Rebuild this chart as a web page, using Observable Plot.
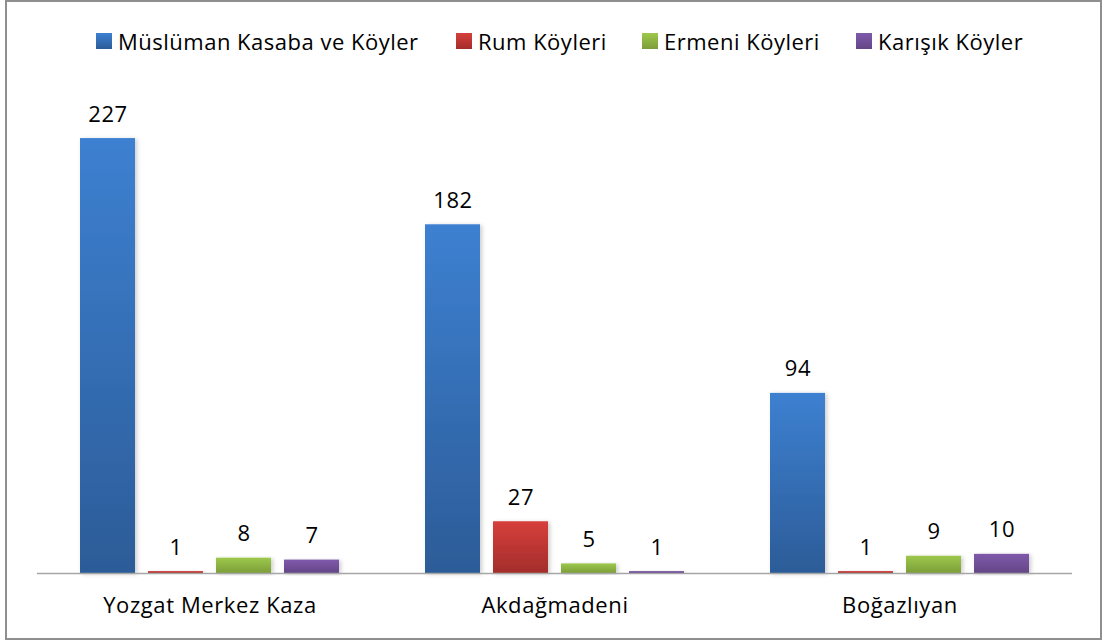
<!DOCTYPE html>
<html>
<head>
<meta charset="utf-8">
<script src="https://cdn.jsdelivr.net/npm/d3@7"></script>
<script src="https://cdn.jsdelivr.net/npm/@observablehq/plot@0.6"></script>
<style>
  body { margin: 0; background: #fff; font-family: "Open Sans", sans-serif; }
  #wrap { position: relative; width: 1103px; height: 643px; overflow: hidden; }
  #border { position: absolute; left: 5px; top: 0; width: 1097px; height: 640px; box-sizing: border-box; border: 2px solid #8f8f8f; pointer-events: none; }
  #legend { position: relative; height: 70px; }
  .item { position: absolute; top: 26px; display: flex; align-items: center; font-size: 22px; letter-spacing: 0.5px; color: #000; white-space: nowrap; }
  .sw { width: 16px; height: 16px; margin-right: 6px; }
  #chart { position: absolute; left: 0; top: 70px; }
  #chart text { letter-spacing: 0.6px; }
</style>
</head>
<body>
<div id="wrap">
  <div id="legend"></div>
  <div id="chart"></div>
  <div id="border"></div>
</div>
<script>
const categories = ["Yozgat Merkez Kaza", "Akdağmadeni", "Boğazlıyan"];
const series = ["Müslüman Kasaba ve Köyler", "Rum Köyleri", "Ermeni Köyleri", "Karışık Köyler"];
const muslumanValues = [227, 182, 94];
const rumValues = [1, 27, 1];
const ermeniValues = [8, 5, 9];
const karisikValues = [7, 1, 10];
const seriesColors = [["#3d80d1", "#2c5c98"], ["#d63f3b", "#a32d2b"], ["#9dc84c", "#7c9e39"], ["#8059ab", "#644687"]];
const legendX = [96, 456, 642, 856];

const valuesBySeries = [muslumanValues, rumValues, ermeniValues, karisikValues];
const data = [];
categories.forEach((c, ci) => series.forEach((s, si) => data.push({category: c, series: s, si, value: valuesBySeries[si][ci]})));

// legend
const legend = document.getElementById("legend");
series.forEach((s, i) => {
  const it = document.createElement("div");
  it.className = "item";
  it.style.left = legendX[i] + "px";
  const sw = document.createElement("div");
  sw.className = "sw";
  sw.style.background = `linear-gradient(${seriesColors[i][0]}, ${seriesColors[i][1]})`;
  const tx = document.createElement("span");
  tx.textContent = s;
  it.appendChild(sw); it.appendChild(tx);
  legend.appendChild(it);
});

// gradient defs in a hidden svg
const ns = "http://www.w3.org/2000/svg";
const defsSvg = document.createElementNS(ns, "svg");
defsSvg.setAttribute("width", 0); defsSvg.setAttribute("height", 0);
defsSvg.style.position = "absolute";
const defs = document.createElementNS(ns, "defs");
seriesColors.forEach((cols, i) => {
  const g = document.createElementNS(ns, "linearGradient");
  g.setAttribute("id", "grad" + i);
  g.setAttribute("x1", "0"); g.setAttribute("y1", "0"); g.setAttribute("x2", "0"); g.setAttribute("y2", "1");
  [[0, cols[0]], [1, cols[1]]].forEach(([o, c]) => {
    const st = document.createElementNS(ns, "stop");
    st.setAttribute("offset", o); st.setAttribute("stop-color", c);
    g.appendChild(st);
  });
  defs.appendChild(g);
});
const f = document.createElementNS(ns, "filter");
f.setAttribute("id", "shadow"); f.setAttribute("x", "-20%"); f.setAttribute("y", "-5%"); f.setAttribute("width", "150%"); f.setAttribute("height", "120%");
const ds = document.createElementNS(ns, "feDropShadow");
ds.setAttribute("dx", "2"); ds.setAttribute("dy", "1"); ds.setAttribute("stdDeviation", "2"); ds.setAttribute("flood-color", "#000"); ds.setAttribute("flood-opacity", "0.2");
f.appendChild(ds); defs.appendChild(f);
defsSvg.appendChild(defs);
document.body.appendChild(defsSvg);

const barMarks = series.map((s, i) => Plot.barY(data.filter(d => d.series === s), {
  fx: "category", x: "series", y: "value", fill: `url(#grad${i})`
}));

const chart = Plot.plot({
  width: 1103,
  height: 573,
  marginLeft: 36,
  marginRight: 30,
  marginTop: 24,
  marginBottom: 70,
  style: {fontFamily: "'Open Sans', sans-serif", background: "transparent"},
  fx: {domain: categories, padding: 0, label: null},
  x: {domain: series, paddingInner: 0.19, paddingOuter: 0.6, axis: null},
  y: {domain: [0, 250], axis: null},
  marks: [
    ...barMarks,
    Plot.ruleY([0], {stroke: "#a6a6a6", strokeWidth: 1.5}),
    Plot.text(data, {fx: "category", x: "series", y: "value", text: d => String(d.value), dy: -17, lineAnchor: "bottom", fontSize: 22, fill: "#000"}),
    Plot.axisFx({anchor: "bottom", tickSize: 0, tickPadding: 24, fontSize: 22, label: null, color: "#000"})
  ]
});
chart.querySelectorAll("g[aria-label='bar'] rect").forEach(r => r.setAttribute("filter", "url(#shadow)"));
document.getElementById("chart").appendChild(chart);
</script>
</body>
</html>
